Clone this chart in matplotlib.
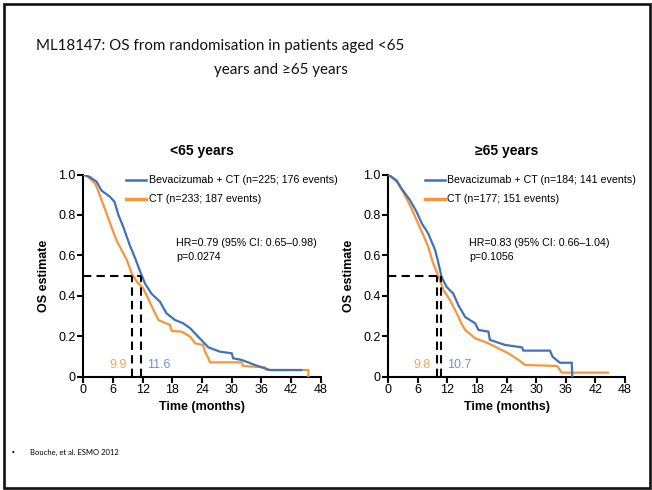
import matplotlib
matplotlib.use("Agg")
import matplotlib.pyplot as plt
from matplotlib.patches import Rectangle

BLUE, ORANGE = "#3f72b9", "#f7943c"
BLUE_TXT, ORANGE_TXT = "#6a95d2", "#f6a45a"

plt.rcParams.update({"font.family": "Liberation Sans", "font.size": 9})

# ---- data (KM curve vertices) ----
panel_titles = ["<65 years", "\u226565 years"]

lt_bev_t = [0, 1.3, 2.7, 3.7, 5.4, 6.3, 7.1, 8.1, 9.4, 10.5, 11.5, 12.5, 13.8, 15.5, 16.8,
            18.5, 20.2, 21.6, 22.9, 24.2, 25.3, 27.6, 30.0, 30.3, 32.0, 34.7, 37.7, 44.1]
lt_bev_s = [1, 0.988, 0.964, 0.92, 0.89, 0.865, 0.80, 0.74, 0.65, 0.585, 0.52, 0.46, 0.41, 0.371,
            0.314, 0.281, 0.264, 0.24, 0.206, 0.173, 0.145, 0.124, 0.116, 0.091, 0.083, 0.058,
            0.033, 0.033]
lt_ct_t = [0, 1.0, 2.4, 3.0, 3.7, 4.7, 5.7, 6.7, 7.75, 8.8, 9.8, 10.8, 12.1, 13.1, 14.2, 15.2,
           17.5, 17.9, 19.9, 21.6, 22.6, 24.2, 24.6, 25.3, 25.6, 32.0, 32.3, 36.7, 37.1, 45.5, 45.5]
lt_ct_s = [1, 0.988, 0.955, 0.92, 0.873, 0.807, 0.74, 0.675, 0.626, 0.577, 0.51, 0.47, 0.437,
           0.387, 0.33, 0.28, 0.256, 0.226, 0.223, 0.198, 0.165, 0.157, 0.124, 0.091, 0.071,
           0.071, 0.053, 0.046, 0.033, 0.033, 0.0]

rt_bev_t = [0, 1.7, 2.7, 4.4, 5.75, 6.8, 8.1, 9.5, 10.1, 10.8, 11.8, 13.2, 14.2, 15.6, 17.6,
            18.3, 20.3, 20.6, 21.6, 23.7, 27.1, 27.4, 32.8, 33.3, 34.8, 37.2, 37.3]
rt_bev_s = [1, 0.97, 0.93, 0.873, 0.815, 0.758, 0.708, 0.626, 0.568, 0.494, 0.445, 0.41, 0.354,
            0.295, 0.264, 0.231, 0.223, 0.182, 0.174, 0.157, 0.145, 0.129, 0.129, 0.099, 0.069,
            0.069, 0.0]
rt_ct_t = [0, 1.7, 3.0, 4.4, 5.75, 7.1, 8.1, 9.1, 10.1, 11.2, 12.5, 13.9, 14.9, 15.6, 17.6,
           20.3, 22.3, 24.3, 26.4, 27.7, 34.2, 34.8, 35.2, 44.6]
rt_ct_s = [1, 0.964, 0.914, 0.848, 0.774, 0.70, 0.642, 0.56, 0.502, 0.428, 0.379, 0.313, 0.26,
           0.231, 0.19, 0.165, 0.14, 0.116, 0.083, 0.058, 0.053, 0.033, 0.02, 0.02]

bev_labels = ["Bevacizumab + CT (n=225; 176 events)", "Bevacizumab + CT (n=184; 141 events)"]
ct_labels = ["CT (n=233; 187 events)", "CT (n=177; 151 events)"]
hr_text = ["HR=0.79 (95% CI: 0.65\u20130.98)\np=0.0274", "HR=0.83 (95% CI: 0.66\u20131.04)\np=0.1056"]
median_bev = [11.6, 10.7]
median_ct = [9.9, 9.8]

curves = [(lt_bev_t, lt_bev_s, lt_ct_t, lt_ct_s), (rt_bev_t, rt_bev_s, rt_ct_t, rt_ct_s)]

fig = plt.figure(figsize=(6.52, 4.9), dpi=100)
fig.patches.append(Rectangle((4 / 652, 2 / 490), 646 / 652, 484 / 490, transform=fig.transFigure,
                             fill=False, edgecolor="#111111", linewidth=1.9))

fig.text(36 / 652, 1 - 46 / 490, "ML18147: OS from randomisation in patients aged <65",
         family="Lato", fontsize=10.9, va="center", ha="left", color="#111111")
fig.text(281 / 652, 1 - 70 / 490, "years and \u226565 years",
         family="Lato", fontsize=10.9, va="center", ha="center", color="#111111")
fig.text(12 / 652, 1 - 452 / 490, "\u2022", fontsize=5.5, va="center", ha="left")
fig.text(30 / 652, 1 - 452 / 490, "Bouche, et al. ESMO 2012", family="Lato", fontsize=5.5,
         va="center", ha="left")

lefts = [83.3 / 652, 388.3 / 652]
widths = [237.4 / 652, 236.7 / 652]
for i in range(2):
    ax = fig.add_axes([lefts[i], 1 - 376.7 / 490, widths[i], 202.2 / 490])
    bt, bs, ct, cs = curves[i]
    ax.plot(bt, bs, color=BLUE, lw=1.6, zorder=4, solid_joinstyle="miter")
    ax.plot(ct, cs, color=ORANGE, lw=1.6, zorder=3, solid_joinstyle="miter")

    ls = (0, (4, 2.5))
    ax.plot([0, median_bev[i]], [0.5, 0.5], color="black", lw=1.5, ls=ls, zorder=5)
    ax.plot([median_ct[i]] * 2, [0, 0.5], color="black", lw=1.5, ls=ls, zorder=5)
    ax.plot([median_bev[i]] * 2, [0, 0.5], color="black", lw=1.5, ls=ls, zorder=5)
    ax.text(median_ct[i] - 1.2, 0.058, f"{median_ct[i]}", color=ORANGE_TXT, ha="right",
            va="center", fontsize=9)
    ax.text(median_bev[i] + 1.3, 0.058, f"{median_bev[i]}", color=BLUE_TXT, ha="left",
            va="center", fontsize=9)

    # legend drawn by hand
    lx0, lx1, tx = (8.6, 12.7, 13.2) if i == 0 else (7.4, 11.5, 12.0)
    ax.plot([lx0, lx1], [0.975, 0.975], color=BLUE, lw=1.8, clip_on=False)
    ax.plot([lx0, lx1], [0.88, 0.88], color=ORANGE, lw=2.4, clip_on=False)
    ax.text(tx, 0.975, bev_labels[i], fontsize=7.7, va="center", ha="left", clip_on=False)
    ax.text(tx, 0.88, ct_labels[i], fontsize=7.7, va="center", ha="left", clip_on=False)
    hx = 18.7 if i == 0 else 16.4
    ax.text(hx, 0.628, hr_text[i], fontsize=7.7, va="center", ha="left", linespacing=1.55)

    ax.set_xlim(0, 48)
    ax.set_ylim(0, 1)
    ax.set_xticks(range(0, 49, 6))
    ax.set_yticks([0, 0.2, 0.4, 0.6, 0.8, 1.0])
    ax.set_yticklabels(["0", "0.2", "0.4", "0.6", "0.8", "1.0"])
    for s in ("top", "right"):
        ax.spines[s].set_visible(False)
    for s in ("left", "bottom"):
        ax.spines[s].set_linewidth(1.5)
    ax.tick_params(direction="out", length=4, width=1.5, labelsize=9, pad=1.5)
    ax.set_title(panel_titles[i], fontsize=10, fontweight="bold", pad=14)
    ax.set_xlabel("Time (months)", fontsize=9, fontweight="bold", labelpad=3)
    ax.set_ylabel("OS estimate", fontsize=9, fontweight="bold", labelpad=6)

fig.savefig("out.png", dpi=100, facecolor="white")
